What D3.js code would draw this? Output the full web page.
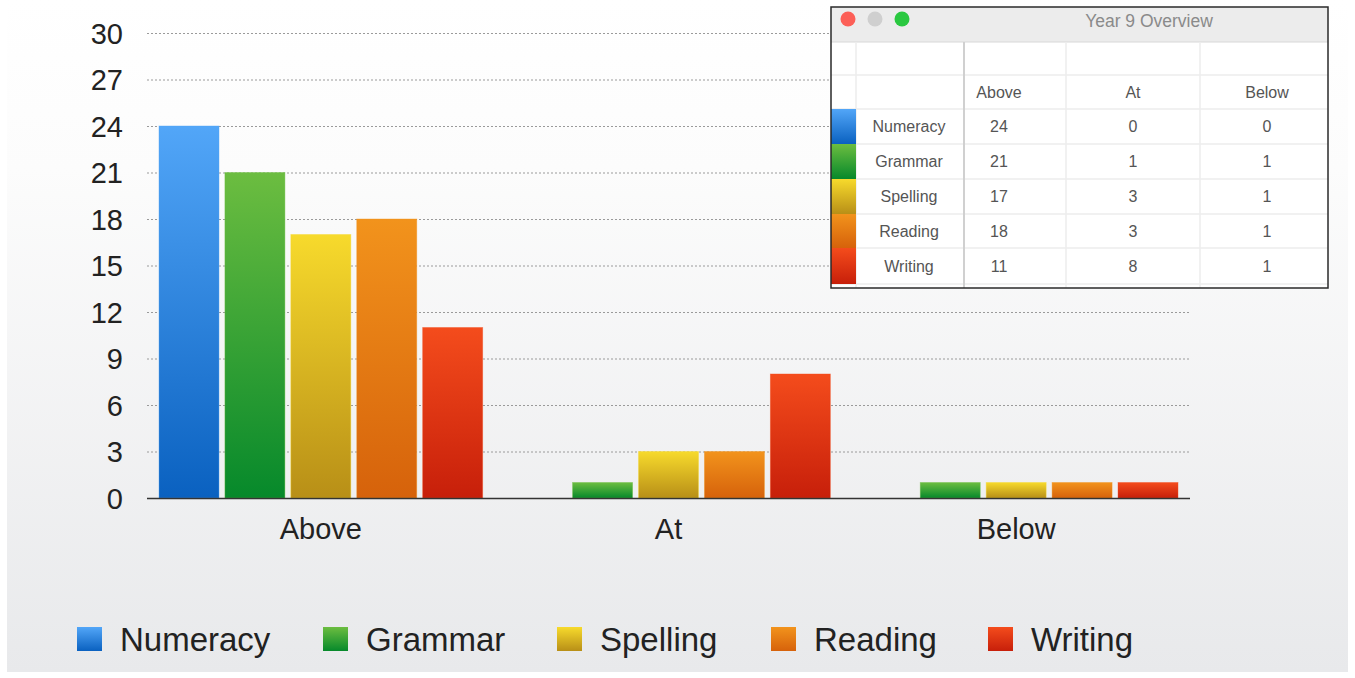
<!DOCTYPE html>
<html>
<head>
<meta charset="utf-8">
<script src="https://cdn.jsdelivr.net/npm/d3@7"></script>
<style>
  html, body { margin: 0; padding: 0; background: #fff; }
  svg { display: block; font-family: "Liberation Sans", Arial, Helvetica, sans-serif; }
</style>
</head>
<body>
<div id="chart"></div>
<script>
// Data
const categories = ['Above', 'At', 'Below'];
const seriesNames = ['Numeracy', 'Grammar', 'Spelling', 'Reading', 'Writing'];
const numeracy = [24, 0, 0];
const grammar = [21, 1, 1];
const spelling = [17, 3, 1];
const reading = [18, 3, 1];
const writing = [11, 8, 1];
const yTicks = [0, 3, 6, 9, 12, 15, 18, 21, 24, 27, 30];
const tableTitle = 'Year 9 Overview';

// top / bottom colours of each bar gradient
const colorTop = ['#52a6f8', '#6cbd40', '#f7da2c', '#f2931c', '#f44c1c'];
const colorBottom = ['#0a61c0', '#06892b', '#b88f17', '#d6620b', '#c71f0a'];

const values = [numeracy, grammar, spelling, reading, writing];

const W = 1355, H = 678;
const margin = { top: 33, right: 165, bottom: 180, left: 147 };

const svg = d3.select('#chart')
  .append('svg')
  .attr('width', W)
  .attr('height', H);

const defs = svg.append('defs');

// background gradient
const bg = defs.append('linearGradient')
  .attr('id', 'bg').attr('x1', 0).attr('y1', 0).attr('x2', 0).attr('y2', 1);
bg.append('stop').attr('offset', '0').attr('stop-color', '#ffffff');
bg.append('stop').attr('offset', '0.25').attr('stop-color', '#fcfcfc');
bg.append('stop').attr('offset', '1').attr('stop-color', '#e8e9eb');

seriesNames.forEach((s, i) => {
  const gr = defs.append('linearGradient')
    .attr('id', 'grad' + i).attr('x1', 0).attr('y1', 0).attr('x2', 0).attr('y2', 1);
  gr.append('stop').attr('offset', '0').attr('stop-color', colorTop[i]);
  gr.append('stop').attr('offset', '1').attr('stop-color', colorBottom[i]);
});

svg.append('rect')
  .attr('x', 7).attr('y', 0)
  .attr('width', W - 14).attr('height', H - 6)
  .attr('fill', 'url(#bg)');

// Scales
const y = d3.scaleLinear()
  .domain([0, 30])
  .range([498, margin.top]);

const x0 = d3.scaleBand()
  .domain(categories)
  .range([margin.left, 1190])
  .padding(0);

const x1 = d3.scaleBand()
  .domain(seriesNames)
  .range([12, x0.bandwidth() - 12])
  .paddingInner(0.09)
  .paddingOuter(0);

// Grid lines
const g = svg.append('g');

g.selectAll('line.grid')
  .data(yTicks.filter(t => t > 0))
  .enter().append('line')
  .attr('class', 'grid')
  .attr('x1', margin.left).attr('x2', 1190)
  .attr('y1', d => y(d) + 0.5).attr('y2', d => y(d) + 0.5)
  .attr('stroke', '#9a9a9a')
  .attr('stroke-width', 1)
  .attr('stroke-dasharray', '2,2');

// Y axis labels
const yAxis = d3.axisLeft(y).tickValues(yTicks).tickSize(0).tickPadding(0);
const yg = svg.append('g')
  .attr('transform', 'translate(123,0)')
  .call(yAxis);
yg.select('.domain').remove();
yg.selectAll('text')
  .attr('font-size', 29)
  .attr('fill', '#222')
  .attr('dy', '0.36em')
  .style('font-family', '"Liberation Sans", Arial, sans-serif');

// Bars
const groups = g.selectAll('g.cat')
  .data(categories)
  .enter().append('g')
  .attr('class', 'cat')
  .attr('transform', d => `translate(${x0(d)},0)`);

groups.selectAll('rect')
  .data((c, ci) => seriesNames.map((s, si) => ({ s, si, v: values[si][ci] })))
  .enter().append('rect')
  .filter(d => d.v > 0)
  .attr('x', d => x1(d.s))
  .attr('width', x1.bandwidth())
  .attr('y', d => y(d.v))
  .attr('height', d => y(0) - y(d.v))
  .attr('fill', d => `url(#grad${d.si})`)
  .attr('stroke', d => colorTop[d.si])
  .attr('stroke-opacity', 0.5)
  .attr('stroke-width', 0.8);

// Baseline
g.append('line')
  .attr('x1', margin.left).attr('x2', 1190)
  .attr('y1', y(0) + 0.5).attr('y2', y(0) + 0.5)
  .attr('stroke', '#333')
  .attr('stroke-width', 1.5);

// X axis labels
const xAxis = d3.axisBottom(x0).tickSize(0).tickPadding(0);
const xg = svg.append('g')
  .attr('transform', `translate(0,${y(0)})`)
  .call(xAxis);
xg.select('.domain').remove();
xg.selectAll('text')
  .attr('font-size', 29)
  .attr('fill', '#222')
  .attr('dy', '1.4em')
  .style('font-family', '"Liberation Sans", Arial, sans-serif');

// Legend
const legendX = [77, 323, 557, 771, 988];
const legend = svg.append('g').attr('class', 'legend');
const li = legend.selectAll('g')
  .data(seriesNames)
  .enter().append('g')
  .attr('transform', (d, i) => `translate(${legendX[i]},627)`);
li.append('rect')
  .attr('width', 25).attr('height', 24)
  .attr('fill', (d, i) => `url(#grad${i})`);
li.append('text')
  .attr('x', 43).attr('y', 12)
  .attr('dy', '0.36em')
  .attr('font-size', 33)
  .attr('fill', '#222')
  .text(d => d);

// Table window
const win = { x: 831, y: 7, w: 497, h: 281 };
const colX = [831, 856, 964, 1066, 1200, 1328];
const rowY = [42, 75, 109, 144, 179, 214, 248, 284];

const tw = svg.append('g').attr('class', 'table-window');

tw.append('rect')
  .attr('x', win.x).attr('y', win.y)
  .attr('width', win.w).attr('height', win.h)
  .attr('fill', '#fff');

tw.append('rect')
  .attr('x', win.x).attr('y', win.y)
  .attr('width', win.w).attr('height', rowY[0] - win.y)
  .attr('fill', '#ececec');
tw.append('line')
  .attr('x1', win.x).attr('x2', win.x + win.w)
  .attr('y1', rowY[0]).attr('y2', rowY[0])
  .attr('stroke', '#d8d8d8');

tw.selectAll('circle.btn')
  .data(['#fc5f57', '#cfcfcf', '#2ac840'])
  .enter().append('circle')
  .attr('class', 'btn')
  .attr('cx', (d, i) => 848 + i * 27)
  .attr('cy', 19)
  .attr('r', 7.5)
  .attr('fill', d => d);

tw.append('text')
  .attr('x', 1149).attr('y', 21)
  .attr('dy', '0.36em')
  .attr('text-anchor', 'middle')
  .attr('font-size', 17.5)
  .attr('fill', '#8a8a8a')
  .text(tableTitle);

// row lines
tw.selectAll('line.row')
  .data(rowY.slice(1))
  .enter().append('line')
  .attr('class', 'row')
  .attr('x1', colX[0]).attr('x2', colX[5])
  .attr('y1', d => d).attr('y2', d => d)
  .attr('stroke', '#ececec')
  .attr('stroke-width', 1.5);

// column lines
tw.selectAll('line.col')
  .data(colX.slice(1, 5))
  .enter().append('line')
  .attr('class', 'col')
  .attr('x1', d => d).attr('x2', d => d)
  .attr('y1', rowY[0]).attr('y2', win.y + win.h)
  .attr('stroke', (d, i) => i === 1 ? '#d0d0d0' : '#ececec')
  .attr('stroke-width', (d, i) => i === 1 ? 2 : 1.5);

// colour strip for each series row
tw.selectAll('rect.strip')
  .data(seriesNames)
  .enter().append('rect')
  .attr('class', 'strip')
  .attr('x', colX[0]).attr('y', (d, i) => rowY[i + 2])
  .attr('width', colX[1] - colX[0])
  .attr('height', (d, i) => rowY[i + 3] - rowY[i + 2])
  .attr('fill', (d, i) => `url(#grad${i})`);

const colCenters = [909, 999, 1133, 1267];

// header
tw.selectAll('text.head')
  .data(categories)
  .enter().append('text')
  .attr('class', 'head')
  .attr('x', (d, i) => colCenters[i + 1])
  .attr('y', (rowY[1] + rowY[2]) / 2)
  .attr('dy', '0.36em')
  .attr('text-anchor', 'middle')
  .attr('font-size', 16)
  .attr('fill', '#555')
  .text(d => d);

// rows
seriesNames.forEach((s, si) => {
  const cy = (rowY[si + 2] + rowY[si + 3]) / 2;
  const cells = [s].concat(values[si]);
  tw.selectAll(null)
    .data(cells)
    .enter().append('text')
    .attr('x', (d, i) => colCenters[i])
    .attr('y', cy)
    .attr('dy', '0.36em')
    .attr('text-anchor', 'middle')
    .attr('font-size', 16)
    .attr('fill', '#555')
    .text(d => d);
});

tw.append('rect')
  .attr('x', win.x).attr('y', win.y)
  .attr('width', win.w).attr('height', win.h)
  .attr('fill', 'none')
  .attr('stroke', '#2a2a2a')
  .attr('stroke-width', 1.5);
</script>
</body>
</html>
